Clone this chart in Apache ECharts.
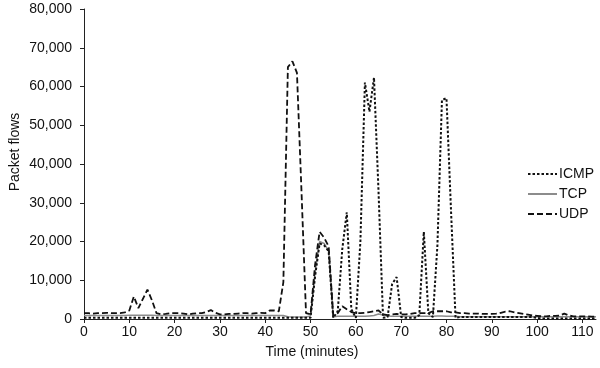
<!DOCTYPE html>
<html>
<head>
<meta charset="utf-8">
<script src="https://cdn.jsdelivr.net/npm/echarts@6/dist/echarts.min.js"></script>
<style>
html,body{margin:0;padding:0;background:#fff;}
#c{width:600px;height:368px;}
</style>
</head>
<body>
<div id="c"></div>
<script>
// Time in minutes
var times = [];
for (var i = 0; i <= 113; i++) times.push(i);

var icmp = [
 300,300,300,300,300,300,300,300,300,300,
 300,300,300,300,300,300,300,300,300,300,
 300,300,300,300,300,300,300,300,300,300,
 300,300,300,300,300,300,300,300,300,300,
 300,300,300,300,300,300,300,300,300,300,
 300,11000,19500,19000,17500,300,2000,18000,27500,2500,
 300,20000,61000,53500,62300,33000,300,500,9000,10800,
 500,300,300,300,1000,22500,1500,500,19000,56500,
 57000,28000,300,500,500,500,500,500,500,500,
 500,500,500,500,500,500,500,500,500,500,
 300,100,100,100,100,100,100,100,100,100,
 100,100,100,100
];

var tcp = [
 900,900,900,900,900,900,900,900,900,900,
 1000,1000,1000,1000,1000,1000,900,900,900,900,
 900,900,900,900,900,900,900,900,900,900,
 900,900,900,900,900,900,900,900,900,900,
 900,900,900,900,900,600,500,500,500,500,
 800,12000,20000,19500,17500,600,700,700,700,700,
 700,700,700,800,900,1300,1000,800,700,700,
 700,700,700,700,700,700,700,700,800,800,
 700,700,700,600,600,600,600,600,600,600,
 600,600,600,600,600,600,600,600,600,600,
 600,600,600,600,600,600,600,600,600,600,
 600,600,600,600
];

var udp = [
 1500,1500,1400,1500,1500,1600,1500,1500,1500,1700,
 2200,5800,2800,5200,7600,4800,1500,1200,1300,1500,
 1500,1500,1400,1200,1400,1500,1500,1800,2300,1600,
 1200,1200,1300,1300,1400,1500,1500,1400,1500,1600,
 1500,2200,2200,2000,9500,65000,66500,63500,33000,1500,
 1200,14000,22500,21000,18700,1000,1500,3300,2500,1800,
 1500,1500,1600,1800,2000,2200,1200,1000,1200,1300,
 1200,1200,1300,1500,1500,1500,1500,2000,2000,2000,
 2000,1700,1700,1500,1500,1400,1400,1400,1300,1300,
 1300,1400,1600,1900,2000,1700,1500,1300,1100,900,
 800,700,700,800,800,900,1400,900,700,700,
 700,700,600,600
];

var xTicks = [0,10,20,30,40,50,60,70,80,90,100,110];

function pairs(vals){ return times.map(function(t,i){ return [t, vals[i]]; }); }

var font = '"Liberation Sans", Arial, Helvetica, sans-serif';
var chart = echarts.init(document.getElementById('c'), null, {renderer:'canvas'});
chart.setOption({
  animation:false,
  grid:{left:84, top:9, right:4, bottom:49, containLabel:false, outerBoundsMode:'none'},
  legend:{
    orient:'vertical', left:527, top:167, padding:0, itemWidth:29, itemHeight:14, itemGap:6,
    itemStyle:{opacity:0},
    textStyle:{fontFamily:font, fontSize:14, color:'#111', padding:[0,0,0,-3]},
    data:['ICMP','TCP','UDP']
  },
  xAxis:{
    type:'value', min:0, max:113, interval:10,
    name:'Time (minutes)', nameLocation:'middle', nameGap:26, nameMoveOverlap:false,
    nameTextStyle:{fontFamily:font, fontSize:14, color:'#111', padding:[0,56,0,0]},
    axisLine:{show:true, lineStyle:{color:'#222', width:1}},
    axisTick:{show:true, length:4, lineStyle:{color:'#222'}, customValues:xTicks},
    axisLabel:{fontFamily:font, fontSize:14, color:'#111', margin:6, customValues:xTicks},
    splitLine:{show:false}
  },
  yAxis:{
    type:'value', min:0, max:80000, interval:10000,
    name:'Packet flows', nameLocation:'middle', nameGap:62, nameRotate:90, nameMoveOverlap:false,
    nameTextStyle:{fontFamily:font, fontSize:14, color:'#111', padding:[0,0,0,24]},
    axisLine:{show:true, lineStyle:{color:'#222', width:1}},
    axisTick:{show:true, length:4, lineStyle:{color:'#222'}},
    axisLabel:{fontFamily:font, fontSize:14, color:'#111', margin:12,
      formatter:function(v){ return v.toLocaleString('en-US'); }},
    splitLine:{show:false}
  },
  series:[
    {name:'ICMP', type:'line', data:pairs(icmp), symbol:'none', z:3, color:'#111',
     lineStyle:{color:'#111', width:2, type:[2.5,2]}},
    {name:'TCP', type:'line', data:pairs(tcp), symbol:'none', z:2, color:'#8c8c8c',
     lineStyle:{color:'#8c8c8c', width:1.5, type:'solid'}},
    {name:'UDP', type:'line', data:pairs(udp), symbol:'none', z:4, color:'#111',
     lineStyle:{color:'#111', width:1.8, type:[6,3]}}
  ]
});
</script>
</body>
</html>
